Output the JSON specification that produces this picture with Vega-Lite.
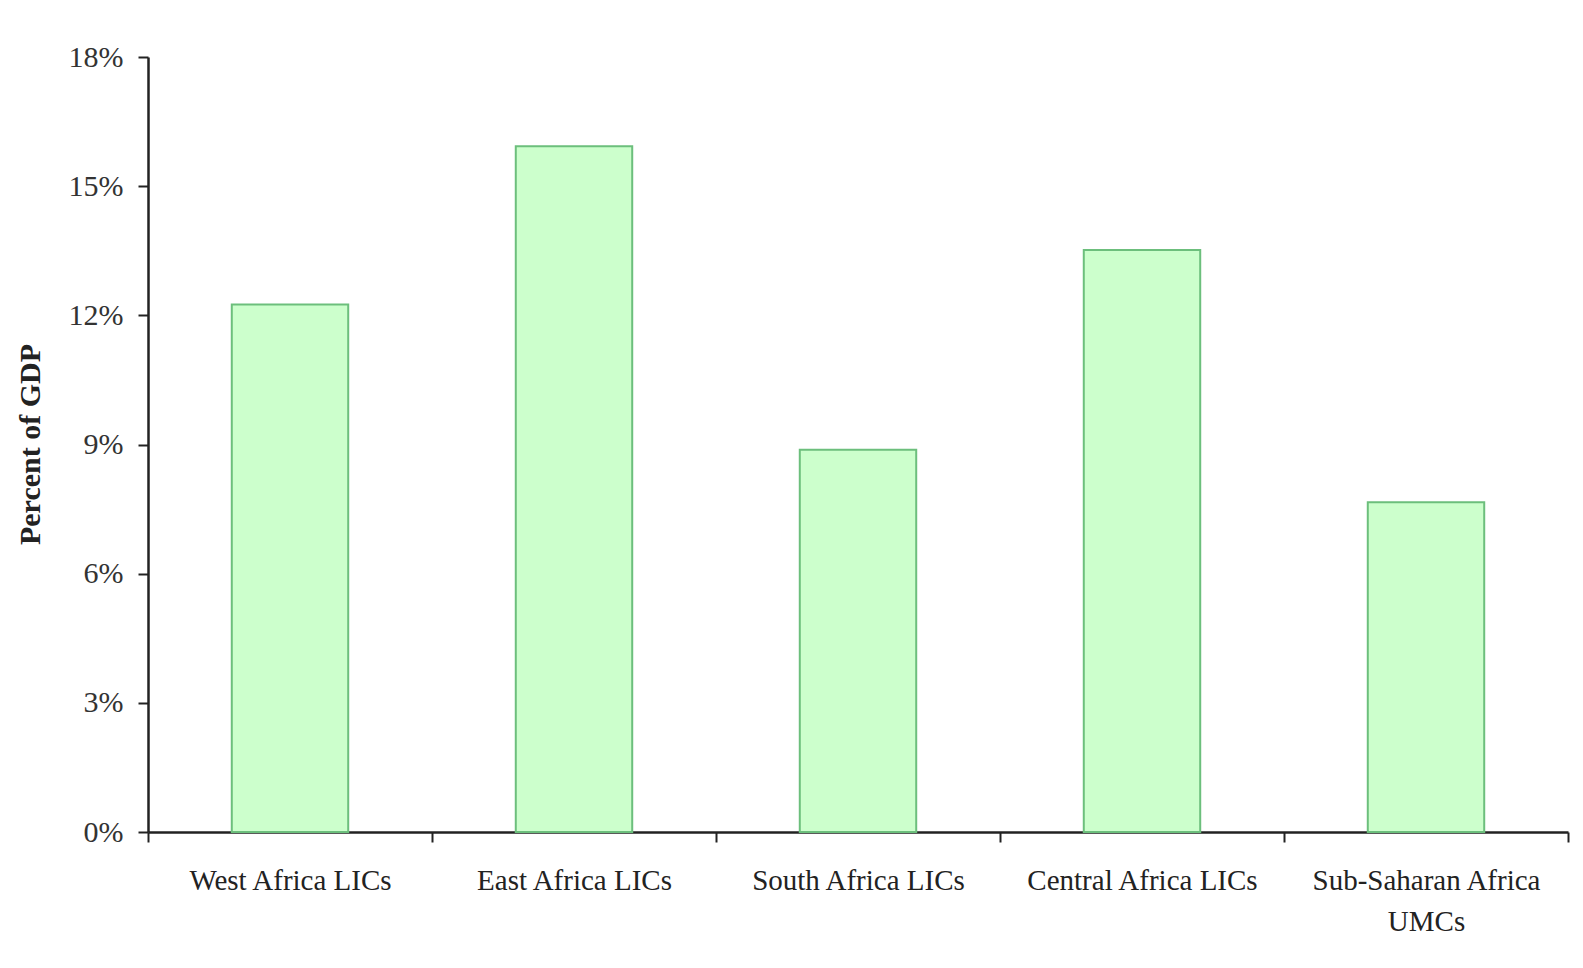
{
  "$schema": "https://vega.github.io/schema/vega-lite/v6.json",
  "width": 1420,
  "height": 775,
  "autosize": {"type": "none"},
  "padding": {"left": 148, "top": 57, "right": 15, "bottom": 136},
  "background": "white",
  "data": {"values": [
    {"region": "West Africa LICs", "value": 12.25},
    {"region": "East Africa LICs", "value": 15.93},
    {"region": "South Africa LICs", "value": 8.88},
    {"region": "Central Africa LICs", "value": 13.52},
    {"region": "Sub-Saharan Africa UMCs", "value": 7.66}
  ]},
  "mark": {"type": "bar", "fill": "#ccffcc", "stroke": "#6cbf7c", "strokeWidth": 2, "width": {"band": 0.41}},
  "encoding": {
    "x": {
      "field": "region", "type": "nominal", "sort": null,
      "scale": {"paddingInner": 0, "paddingOuter": 0},
      "axis": {
        "title": null, "labelAngle": 0, "tickBand": "extent",
        "tickSize": 10, "tickWidth": 2, "domainWidth": 2.5,
        "domainColor": "#222", "tickColor": "#222",
        "labelFont": "Liberation Serif", "labelFontSize": 29, "labelColor": "#222",
        "labelPadding": 24, "labelLineHeight": 41, "labelBaseline": "top",
        "labelLimit": 400,
        "labelExpr": "datum.label == 'Sub-Saharan Africa UMCs' ? ['Sub-Saharan Africa', 'UMCs'] : datum.label"
      }
    },
    "y": {
      "field": "value", "type": "quantitative",
      "scale": {"domain": [0, 18], "nice": false},
      "axis": {
        "values": [0, 3, 6, 9, 12, 15, 18],
        "labelExpr": "datum.value + '%'",
        "grid": false,
        "tickSize": 10, "tickWidth": 2, "domainWidth": 2.5,
        "domainColor": "#222", "tickColor": "#222",
        "labelFont": "Liberation Serif", "labelFontSize": 30, "labelColor": "#333",
        "labelPadding": 15,
        "title": "Percent of GDP",
        "titleFont": "Liberation Serif", "titleFontSize": 30, "titleFontWeight": "bold",
        "titleColor": "#222",
        "titleX": -118, "titleY": 387, "titleAlign": "center", "titleBaseline": "middle", "titleAngle": 270
      }
    }
  },
  "config": {"view": {"stroke": null}}
}
